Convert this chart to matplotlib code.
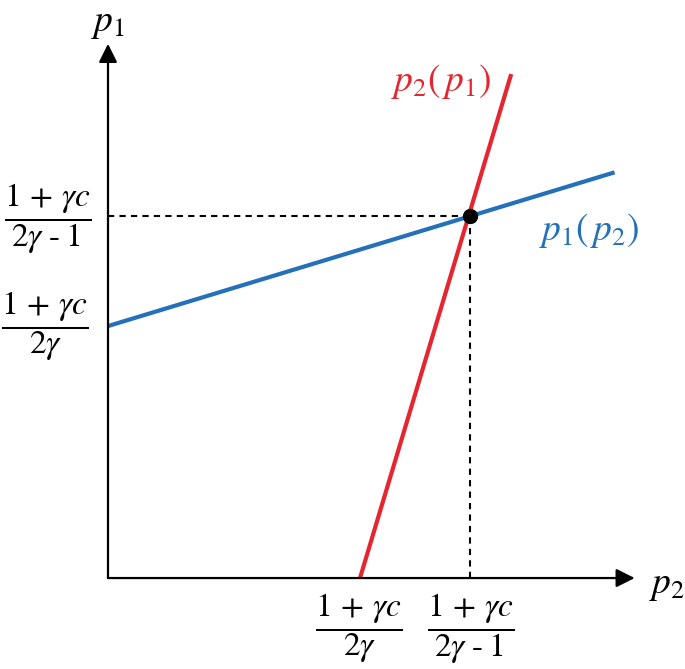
import matplotlib.pyplot as plt
import numpy as np

plt.rcParams['mathtext.fontset'] = 'stix'
plt.rcParams['font.family'] = 'STIXGeneral'

# best responses, in units of (1 + gc) / (2g)
blue_p2 = [0.0, 2.01]      # p1(p2)
blue_p1 = [1.0, 1.61]
red_p1 = [0.0, 2.0]        # p2(p1)
red_p2 = [1.0, 1.6]
eq_p2, eq_p1 = 1.435, 1.435
axis_end_p2, axis_end_p1 = 2.09, 2.12

frac_a = r'$\dfrac{1\,+\,\gamma c}{2\gamma}$'
frac_b = r'$\dfrac{1\,+\,\gamma c}{2\gamma\;\text{-}\;1}$'

RED = '#e52630'
BLUE = '#2470b9'

fig = plt.figure(figsize=(6.85, 6.69), dpi=100)
ax = fig.add_axes([0, 0, 1, 1])
ax.set_xlim(-0.4286, 2.2897)
ax.set_ylim(-0.361, 2.294)
ax.axis('off')

# axes with arrow heads
ax.annotate('', xy=(axis_end_p2, 0), xytext=(0, 0),
            arrowprops=dict(arrowstyle='-|>', mutation_scale=28, lw=1.6, color='k',
                            shrinkA=0, shrinkB=0))
ax.annotate('', xy=(0, axis_end_p1), xytext=(0, 0),
            arrowprops=dict(arrowstyle='-|>', mutation_scale=28, lw=1.6, color='k',
                            shrinkA=0, shrinkB=0))

# dashed guides to the equilibrium
ax.plot([0, eq_p2], [eq_p1, eq_p1], color='k', lw=1.5, ls=(0, (3, 2.5)))
ax.plot([eq_p2, eq_p2], [0, eq_p1], color='k', lw=1.5, ls=(0, (3, 2.5)))

ax.plot(blue_p2, blue_p1, color=BLUE, lw=3, solid_capstyle='butt')
ax.plot(red_p2, red_p1, color=RED, lw=3, solid_capstyle='butt')
ax.plot(eq_p2, eq_p1, 'o', color='k', ms=10, zorder=5)

# labels
ax.text(0.0, 2.2, r'$p_1$', fontsize=27, ha='center', va='center')
ax.text(2.22, -0.03, r'$p_2$', fontsize=27, ha='center', va='center')
ax.text(1.32, 1.97, r'$p_2(\,p_1)$', fontsize=27, color=RED, ha='center', va='center')
ax.text(1.91, 1.38, r'$p_1(\,p_2)$', fontsize=27, color=BLUE, ha='center', va='center')

ax.text(-0.24, eq_p1 - 0.01, frac_b, fontsize=24, ha='center', va='center')
ax.text(-0.25, blue_p1[0], frac_a, fontsize=24, ha='center', va='center')
ax.text(0.995, -0.2, frac_a, fontsize=24, ha='center', va='center')
ax.text(1.44, -0.2, frac_b, fontsize=24, ha='center', va='center')

fig.savefig('out.png', dpi=100)
